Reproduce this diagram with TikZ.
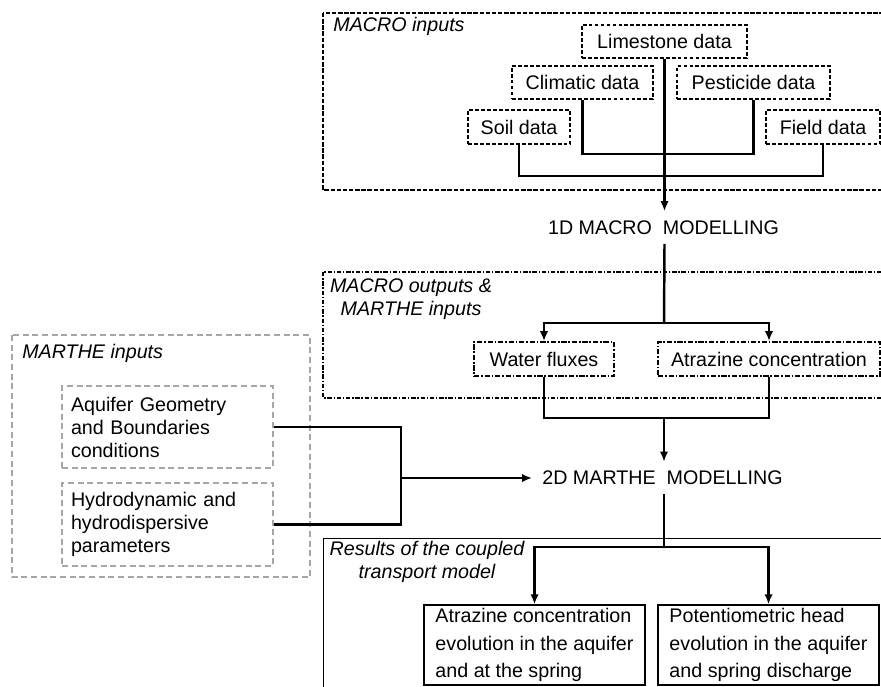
\documentclass[tikz,border=0pt]{standalone}
\usepackage{fontspec}
\setmainfont{Liberation Sans}
\usetikzlibrary{arrows.meta}

\begin{document}
\begin{tikzpicture}[x=1cm, y=-1cm, font=\fontsize{11.2}{13.1}\selectfont,
    inputbox/.style ={draw, line width=1.1pt, dash pattern=on 2.2pt off 1.2pt, minimum height=0.66cm, inner sep=0pt},
    outputbox/.style ={draw, line width=1pt, dash pattern=on 3pt off 1pt on 1pt off 1pt, minimum height=0.68cm, inner sep=0pt},
    marthebox/.style ={draw=gray!70, line width=1.2pt, dash pattern=on 3.5pt off 2pt, text width=3.86cm, align=left, inner sep=0.18cm},
    resultbox/.style ={draw, line width=0.8pt, align=left, minimum width=4.42cm, minimum height=1.6cm, inner sep=0.05cm, font=\fontsize{11.2}{15.6}\selectfont},
    stage/.style ={minimum height=0.64cm, inner ysep=0pt, inner xsep=0.2cm},
    grouplabel/.style ={font=\fontsize{11.2}{13.1}\selectfont\itshape, inner sep=0pt},
    link/.style ={line width=1.4pt},
    flow/.style ={line width=1.4pt, -{Latex[length=5.7pt,width=4.8pt]}}]
   \useasboundingbox (0,0) rectangle (17.62,13.72);
   \clip (0,0) rectangle (17.62,13.72);
   \draw[line width=0.6pt, dash pattern=on 2.5pt off 1pt] (6.46,0.26) rectangle (18,3.80);
   \draw[line width=0.6pt, dash pattern=on 2.5pt off 1pt on 0.8pt off 1pt] (6.46,5.44) rectangle (18,7.96);
   \draw[gray!70, line width=0.9pt, dash pattern=on 3.5pt off 2pt] (0.24,6.70) rectangle (6.20,11.54);
   \draw[line width=0.5pt] (6.46,10.76) rectangle (18,14);
   \node[grouplabel, anchor=west] (macroin) at (6.66,0.52) {MACRO inputs};
   \node[grouplabel, align=center] (macroout) at (8.22,5.99) {MACRO outputs \&\\MARTHE inputs};
   \node[grouplabel, anchor=west] (marthein) at (0.44,7.06) {MARTHE inputs};
   \node[grouplabel, align=center] (results) at (8.54,11.23) {Results of the coupled\\transport model};
   \node[inputbox, minimum width=3.30cm] (lime) at (13.29,0.83) {Limestone data};
   \node[inputbox, minimum width=2.82cm] (clim) at (11.65,1.65) {Climatic data};
   \node[inputbox, minimum width=3.06cm] (pest) at (15.07,1.65) {Pesticide data};
   \node[inputbox, minimum width=2.04cm, minimum height=0.68cm] (soil) at (10.38,2.54) {Soil data};
   \node[inputbox, minimum width=2.28cm, minimum height=0.68cm] (field) at (16.46,2.54) {Field data};
   \node[stage] (macro1d) at (13.27,4.55) {1D MACRO~ MODELLING};
   \node[outputbox, minimum width=2.80cm] (water) at (10.88,7.18) {Water fluxes};
   \node[outputbox, minimum width=4.44cm] (atra) at (15.38,7.18) {Atrazine concentration};
   \node[stage] (marthe2d) at (13.25,9.56) {2D MARTHE~ MODELLING};
   \node[marthebox, minimum height=1.64cm] (aquif) at (3.35,8.54) {Aquifer Geometry\\and Boundaries\\conditions};
   \node[marthebox, minimum height=1.66cm] (hydro) at (3.35,10.49) {Hydrodynamic and\\hydrodispersive\\parameters};
   \node[resultbox] (conc) at (10.69,12.9) {Atrazine concentration\\evolution in the aquifer\\and at the spring};
   \node[resultbox] (head) at (15.37,12.9) {Potentiometric head\\evolution in the aquifer\\and spring discharge};
   \coordinate (bar1) at (13.28,3.08);
   \coordinate (bar2) at (13.28,3.52);
   \coordinate (split1) at (13.28,6.46);
   \coordinate (join1) at (13.28,8.36);
   \coordinate (join2) at (8.02,9.56);
   \coordinate (split2) at (13.28,10.94);
   \draw[link] (clim.south) |- (bar1) -| (pest.south);
   \draw[link] (soil.south) |- (bar2) -| (field.south);
   \draw[flow] (lime.south) -- (lime.south |- macro1d.north);
   \draw[link] (lime.south |- macro1d.south) -- (split1);
   \draw[flow] (split1) -| (water.north);
   \draw[flow] (split1) -| (atra.north);
   \draw[link] (water.south) |- (join1) -| (atra.south);
   \draw[flow] (join1) -- (join1 |- marthe2d.north);
   \draw[link] (aquif.east) -| (join2) |- (hydro.east);
   \draw[flow] (join2) -- (marthe2d.west);
   \draw[link] (join1 |- marthe2d.south) -- (split2);
   \draw[flow] (split2) -| (conc.north);
   \draw[flow] (split2) -| (head.north);
\end{tikzpicture}
\end{document}
